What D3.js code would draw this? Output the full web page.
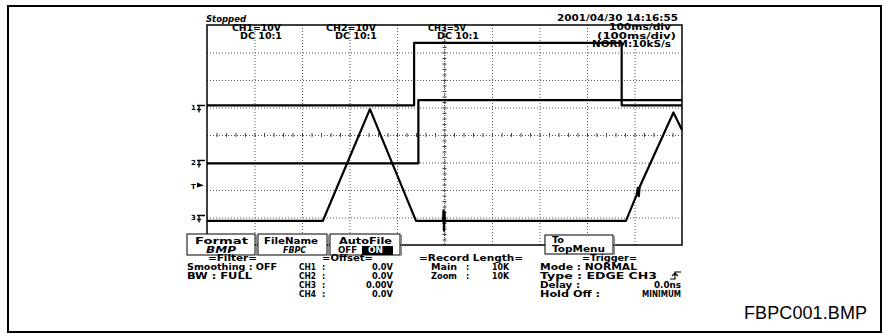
<!DOCTYPE html>
<html>
<head>
<meta charset="utf-8">
<script src="https://cdn.jsdelivr.net/npm/d3@7"></script>
<style>
  html, body { margin: 0; padding: 0; background: #fff; }
  svg { display: block; }
  .scope { font-family: "DejaVu Sans", "Liberation Sans", sans-serif; font-weight: bold; font-size: 8px; fill: #000; }
  .grid path, .minor path { display: none; }
  .grid line { stroke: #555; stroke-dasharray: 1,2; }
  .minor line { stroke: #444; }
  .trace { fill: none; stroke: #000; stroke-width: 2.2; stroke-linejoin: round; }
</style>
</head>
<body>
<div id="chart"></div>
<script>
// scope screen: 10 div x 100ms, 8 vertical div
const timeTicks = d3.range(0, 1001, 100);
const divTicks = d3.range(-4, 5, 1);

// channel settings
const channelNames = ['1', '2', '3'];
const voltsPerDiv = [10, 10, 5];
const groundDiv = [1, -1, -3];
const triggerLevel = 5.8; // V on CH3

// traces [ms, V]
const ch1Points = [[0, 0.8], [436, 0.8], [436, 23.5], [873, 23.5], [873, 0.8], [1000, 0.8]];
const ch2Points = [[0, -0.3], [445, -0.3], [445, 22.7], [1000, 22.7]];
const ch3Points = [[0, -0.6], [244, -0.6], [343, 19.7], [440, -0.6], [497, -0.6], [498, 1.3],
  [499, -2.4], [500, 1.0], [501, -0.8], [502, -0.6], [882, -0.6], [905, 4.2], [907, 5.4], [909, 3.9],
  [911, 5.6], [982, 19.1], [1000, 15.9]];

// on-screen texts
const channelLabels = ['CH1=10V', 'CH2=10V', 'CH3=5V'];
const couplingLabels = ['DC 10:1', 'DC 10:1', 'DC 10:1'];
const statusLabel = 'Stopped';
const dateLabel = '2001/04/30  14:16:55';
const timebaseLabels = ['100ms/div', '(100ms/div)', 'NORM:10kS/s'];
const filterRows = ['Smoothing : OFF', 'BW : FULL'];
const offsetChannels = ['CH1', 'CH2', 'CH3', 'CH4'];
const offsetValues = ['0.0V', '0.0V', '0.00V', '0.0V'];
const recordRows = [['Main', '10K'], ['Zoom', '10K']];
const triggerRows = [['Mode : NORMAL', ''], ['Type : EDGE CH3', ''], ['Delay :', '0.0ns'], ['Hold Off :', 'MINIMUM']];
const fileName = 'FBPC001.BMP';

const W = 882, H = 334;
const svg = d3.select('#chart').append('svg').attr('width', W).attr('height', H);

const x = d3.scaleLinear().domain([0, 1000]).range([207, 682]);
const y = d3.scaleLinear().domain([-4, 4]).range([245, 25]);

// outer frame
svg.append('rect').attr('x', 8).attr('y', 6).attr('width', 873).attr('height', 326)
  .attr('fill', 'none').attr('stroke', '#000').attr('stroke-width', 2);

// graticule
svg.append('g').attr('class', 'grid')
  .attr('transform', `translate(0,${y(-4)})`)
  .call(d3.axisBottom(x).tickValues(timeTicks.slice(1, -1)).tickSize(-(y(-4) - y(4))).tickFormat(''));
svg.append('g').attr('class', 'grid')
  .attr('transform', `translate(${x(0)},0)`)
  .call(d3.axisLeft(y).tickValues(divTicks.slice(1, -1)).tickSize(-(x(1000) - x(0))).tickFormat(''));

// minor ticks on centre lines
svg.append('g').attr('class', 'minor')
  .attr('transform', `translate(0,${y(0) - 2})`)
  .call(d3.axisBottom(x).tickValues(d3.range(20, 1000, 20)).tickSize(4).tickFormat(''));
svg.append('g').attr('class', 'minor')
  .attr('transform', `translate(${x(500) + 2},0)`)
  .call(d3.axisLeft(y).tickValues(d3.range(-3.8, 4, 0.2)).tickSize(4).tickFormat(''));
svg.append('line').attr('x1', x(500)).attr('x2', x(500)).attr('y1', y(4)).attr('y2', y(-4))
  .attr('stroke', '#555').attr('stroke-dasharray', '1,1');

// screen border
svg.append('rect').attr('x', x(0)).attr('y', y(4)).attr('width', x(1000) - x(0)).attr('height', y(-4) - y(4))
  .attr('fill', 'none').attr('stroke', '#000').attr('stroke-width', 1.5);

// traces
[ch1Points, ch2Points, ch3Points].forEach((pts, i) => {
  const line = d3.line()
    .x(d => x(d[0]))
    .y(d => y(d[1] / voltsPerDiv[i] + groundDiv[i]));
  svg.append('path').attr('class', 'trace').attr('d', line(pts));
});

function label(t, px, py, len, opts = {}) {
  const el = svg.append('text').attr('class', 'scope').attr('x', px).attr('y', py).text(t);
  if (len) el.attr('textLength', len).attr('lengthAdjust', 'spacingAndGlyphs');
  if (opts.italic) el.style('font-style', 'italic');
  if (opts.end) el.attr('text-anchor', 'end');
  if (opts.fill) el.style('fill', opts.fill);
  if (opts.size) el.style('font-size', opts.size + 'px');
  return el;
}

// channel ground markers
channelNames.forEach((n, i) => {
  const gy = y(groundDiv[i]) + 1;
  label(n, 191, gy + 1, null, { size: 7 });
  svg.append('path')
    .attr('d', `M197,${gy - 3}H205M199,${gy - 3}V${gy + 4}M197,${gy + 1}H201`)
    .attr('stroke', '#000').attr('stroke-width', 1.3).attr('fill', 'none');
});
// trigger level marker
const ty = y(triggerLevel / voltsPerDiv[2] + groundDiv[2]);
label('T', 191, ty + 3, null, { size: 7 });
svg.append('path').attr('d', `M197,${ty - 3}L204,${ty}L197,${ty + 2}Z`).attr('fill', '#000');

// header
label(statusLabel, 206, 22, 40, { italic: true });
const chX = [232, 326, 428], dcX = [240, 335, 437], chLen = [49, 50, 38];
channelLabels.forEach((t, i) => {
  label(t, chX[i], 31, chLen[i]);
  label(couplingLabels[i], dcX[i], 39, 42);
});
label(dateLabel, 557, 21, 121);
label(timebaseLabels[0], 609, 30, 62);
label(timebaseLabels[1], 597, 39, 79);
label(timebaseLabels[2], 592, 47, 79);

// soft keys
function softKey(bx, by, bw, bh) {
  svg.append('rect').attr('x', bx).attr('y', by).attr('width', bw).attr('height', bh)
    .attr('fill', '#fff').attr('stroke', '#000').attr('stroke-width', 1);
  svg.append('line').attr('x1', bx + bw + 1.5).attr('x2', bx + bw + 1.5).attr('y1', by + 1).attr('y2', by + bh + 1)
    .attr('stroke', '#888').attr('stroke-width', 1);
}
softKey(187, 234, 68, 21);
softKey(258, 234, 69, 21);
softKey(330, 234, 70, 21);
softKey(545, 235, 68, 19);
label('Format', 195, 244, 53);
label('BMP', 206, 253, 30, { italic: true });
label('FileName', 264, 244, 54);
label('FBPC', 283, 253, 23, { italic: true });
label('AutoFile', 339, 244, 53);
label('OFF', 338, 253, 19);
svg.append('rect').attr('x', 362).attr('y', 246).attr('width', 31).attr('height', 9).attr('fill', '#000');
label('ON', 368, 253, 15, { fill: '#fff' });
label('To', 552, 243, 12);
label('TopMenu', 552, 252, 53);

// settings block
const rowY = [261, 270, 279, 288, 297];
label('=Filter=', 208, rowY[0], 49);
label(filterRows[0], 187, rowY[1], 90);
label(filterRows[1], 187, rowY[2], 65);
label('=Offset=', 322, rowY[0], 51);
offsetChannels.forEach((c, i) => {
  label(c, 299, rowY[i + 1], 17);
  label(':', 322, rowY[i + 1]);
  label(offsetValues[i], 393, rowY[i + 1], offsetValues[i].length * 6 - 3, { end: true });
});
label('=Record Length=', 419, rowY[0], 104);
recordRows.forEach((r, i) => {
  label(r[0], 431, rowY[i + 1], 26);
  label(':', 466, rowY[i + 1]);
  label(r[1], 509, rowY[i + 1], 17, { end: true });
});
label('=Trigger=', 582, rowY[0], 55);
triggerRows.forEach((r, i) => {
  const lens = [97, 117, 40, 60];
  label(r[0], 540, rowY[i + 1], lens[i]);
  if (r[1]) label(r[1], 681, rowY[i + 1], r[1].length * 6 - 3, { end: true });
});
// rising edge symbol
svg.append('path').attr('d', `M670,${rowY[2]}H675V${rowY[2] - 7}H681M672,${rowY[2] - 3}L675,${rowY[2] - 6}L678,${rowY[2] - 3}`)
  .attr('stroke', '#000').attr('stroke-width', 1.2).attr('fill', 'none');

// file caption
svg.append('text').attr('x', 744).attr('y', 319).attr('font-family', 'Liberation Sans, Arial, sans-serif')
  .attr('font-size', 18).attr('textLength', 123).attr('lengthAdjust', 'spacing').text(fileName);
</script>
</body>
</html>
